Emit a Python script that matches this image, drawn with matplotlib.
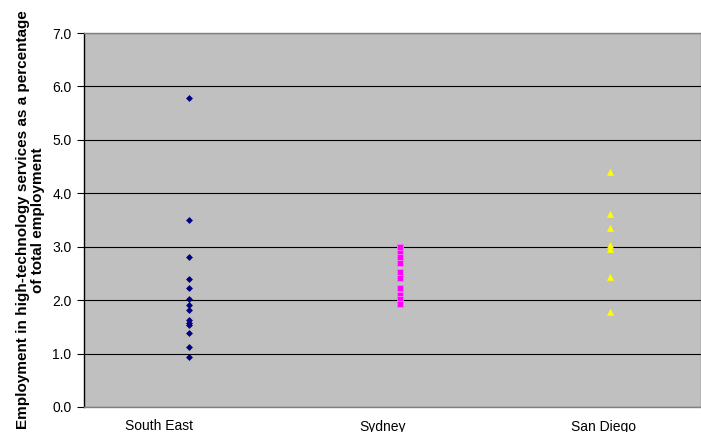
import matplotlib
matplotlib.use("Agg")
from matplotlib import pyplot as plt

plt.rcParams['font.family'] = ['Liberation Sans', 'DejaVu Sans']

categories = ["South East", "Sydney", "San Diego"]
south_east = [5.78, 3.50, 2.81, 2.40, 2.22, 2.03, 1.91, 1.82, 1.63, 1.58, 1.53, 1.39, 1.12, 0.93]
sydney = [2.99, 2.88, 2.80, 2.70, 2.52, 2.42, 2.22, 2.10, 2.02, 1.93]
san_diego = [4.40, 3.61, 3.35, 3.03, 2.95, 2.44, 1.78]
y_ticks = [0, 1, 2, 3, 4, 5, 6, 7]

fig = plt.figure(figsize=(7.01, 4.32), dpi=100)
ax = fig.add_axes([84 / 701, 25 / 432, 1 - 84 / 701, 374 / 432])
ax.set_facecolor("#C0C0C0")

ax.plot([1] * len(south_east), south_east, linestyle="none", marker="D",
        markersize=3.0, markeredgewidth=0.5, color="#000080")
ax.plot([2] * len(sydney), sydney, linestyle="none", marker="s",
        markersize=3.8, markeredgewidth=0.6, color="#FF00FF",
        markeredgecolor="#FF70FF")
ax.plot([3] * len(san_diego), san_diego, linestyle="none", marker="^",
        markersize=4.8, markeredgewidth=0.5, color="#FFFF00")

ax.set_xlim(0.5, 0.5 + (701 - 84) / 210.5)
ax.set_ylim(0, 7)
ax.set_yticks(y_ticks)
ax.set_yticklabels(["%.1f" % v for v in y_ticks], fontsize=10)
ax.yaxis.grid(True, color="black", linewidth=0.8)
ax.set_axisbelow(True)

# category labels sit a bit left of the points, as in the original
label_offsets = [-0.144, -0.08, -0.03]
ax.set_xticks([i + 1 + off for i, off in enumerate(label_offsets)])
ax.set_xticklabels(categories, fontsize=10)
ax.tick_params(axis="x", length=0, pad=9)
ax.tick_params(axis="y", length=5, direction="out", pad=4, color="black")

for side in ["top", "bottom", "right"]:
    ax.spines[side].set_color("#808080")
    ax.spines[side].set_linewidth(1.0)
ax.spines["left"].set_color("black")
ax.spines["left"].set_linewidth(1.0)

ax.set_ylabel("Employment in high-technology services as a percentage\nof total employment",
              fontsize=11, fontweight="bold", labelpad=5, linespacing=1.1)

fig.savefig("out.png", dpi=100)
